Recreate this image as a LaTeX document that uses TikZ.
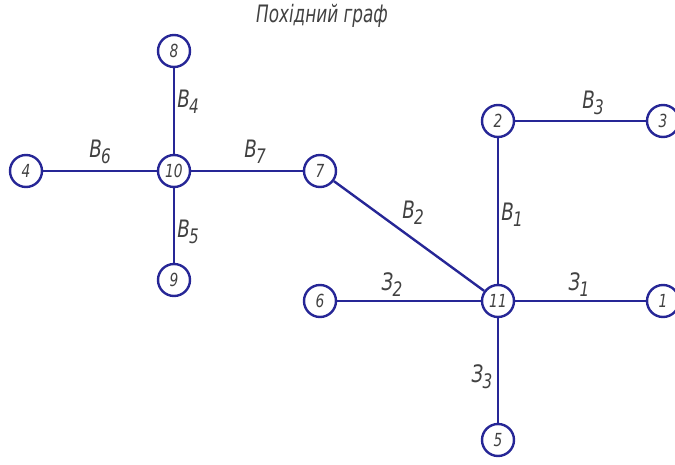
\documentclass[tikz,border=0pt]{standalone}
\usepackage{fontspec}
\setmainfont{DejaVu Sans Condensed}
\definecolor{gblue}{RGB}{38,38,150}
\definecolor{gtext}{RGB}{65,65,65}
\newcommand{\gsb}[2]{\scalebox{0.85}[1]{#1\kern-0.5pt\raisebox{-0.45ex}{\normalsize #2}}}

\tikzset{gv/.style={circle,draw=gblue,line width=1.2pt,fill=white,inner sep=0pt,minimum size=16pt,text=gtext,font=\small\itshape},
         ge/.style={draw=gblue,line width=1.2pt},
         glab/.style={text=gtext,font=\large\itshape,inner sep=0pt}}

\begin{document}
\begin{tikzpicture}[x=0.5pt,y=-0.5pt]
    \useasboundingbox (0,0) rectangle (675,465);
    \node[glab] (title) at (322,16) {\scalebox{0.78}[1]{Похідний граф}};
    \foreach \n/\x/\y in {8/174/51,10/174/171,4/26/171,9/174/280,7/320/171,2/498/121,3/663/121,11/498/301,6/320/301,1/663/301,5/498/440} \node[gv] (v\n) at (\x,\y) {\scalebox{0.85}[1]{\n}};
    \foreach \i/\j in {8/10,10/9,4/10,10/7,7/11,2/11,2/3,6/11,11/1,11/5} \draw[ge] (v\i)--(v\j);
    \node[glab] (b4) at (188,102) {\gsb{B}{4}};
    \node[glab] (b5) at (188,232) {\gsb{B}{5}};
    \node[glab] (b6) at (100,152) {\gsb{B}{6}};
    \node[glab] (b7) at (255,152) {\gsb{B}{7}};
    \node[glab] (b2) at (413,213) {\gsb{B}{2}};
    \node[glab] (b1) at (512,215) {\gsb{B}{1}};
    \node[glab] (b3) at (593,103) {\gsb{B}{3}};
    \node[glab] (z2) at (392,285) {\gsb{З}{2}};
    \node[glab] (z1) at (579,285) {\gsb{З}{1}};
    \node[glab] (z3) at (482,377) {\gsb{З}{3}};
  \end{tikzpicture}
\end{document}
